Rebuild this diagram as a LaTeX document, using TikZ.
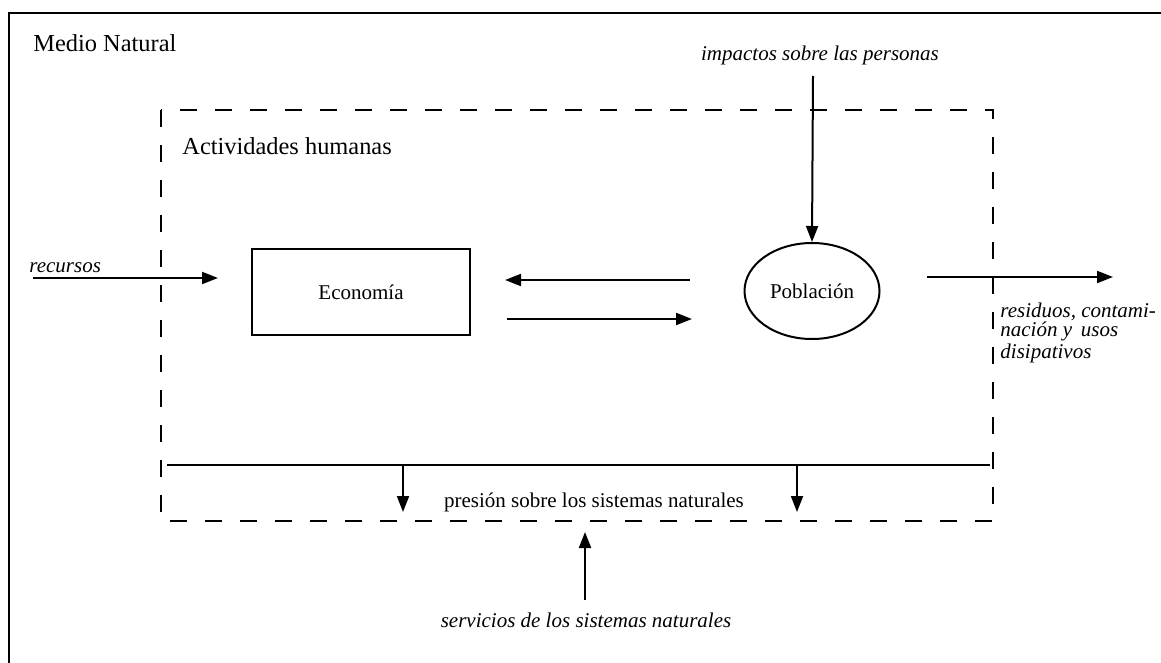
\documentclass[tikz,border=0pt]{standalone}
\usepackage{fontspec}
\setmainfont{Liberation Serif}
\usetikzlibrary{arrows.meta,shapes.geometric}

\begin{document}
\begin{tikzpicture}[x=0.5pt,y=-0.5pt,
  flecha/.style={line width=1pt,-{Triangle[length=8pt,width=6pt]}},
  etiq/.style={font=\fontsize{10.5}{12}\selectfont\itshape,inner sep=0pt},
  titulo/.style={font=\fontsize{12.2}{14}\selectfont,anchor=west,inner sep=0pt},
  interno/.style={font=\fontsize{10.5}{12}\selectfont,inner sep=0pt}]
\useasboundingbox (0,0) rectangle (1161,663);

% medio natural
\draw[line width=1pt] (1175,13) -- (9,13) -- (9,680);
\node[titulo] (medio) at (33,43) {Medio Natural};

% actividades humanas
\draw[line width=1pt,dash pattern=on 8.5pt off 9pt] (161,110) rectangle (993,521);
\node[titulo] (activ) at (182,146) {Actividades humanas};

\node[draw,line width=1pt,minimum width=109pt,minimum height=43pt,interno] (eco) at (361,292) {Econom\'ia};
\node[draw,ellipse,line width=1pt,minimum width=67.5pt,minimum height=48pt,interno] (pob) at (812,291) {Poblaci\'on};

% entradas
\node[etiq] (imp) at (820,55) {impactos sobre las personas};
\coordinate (impini) at (813,76);
\draw[flecha] (impini) -- (pob.north);

\node[etiq,anchor=base west] (rec) at (29,272) {recursos};
\coordinate (recini) at (33,278);
\coordinate (recfin) at (218,278);
\draw[flecha] (recini) -- (recfin);

% flujos economia - poblacion
\coordinate (a1) at (690,280);
\coordinate (a2) at (505,280);
\coordinate (b1) at (507,319);
\coordinate (b2) at (692,319);
\draw[flecha] (a1) -- (a2);
\draw[flecha] (b1) -- (b2);

% salidas
\coordinate (resini) at (927,277);
\coordinate (resfin) at (1113,277);
\draw[flecha] (resini) -- (resfin);
\node[etiq,anchor=north west,align=left,font=\fontsize{10.5}{9.5}\selectfont\itshape] (res) at (1000,303)
  {residuos, contami-\\naci\'on y\, usos\\disipativos};

% presion
\coordinate (linizq) at (167,465);
\coordinate (linder) at (990,465);
\draw[line width=1pt] (linizq) -- (linder);
\foreach \x in {403,797}
{
\coordinate (pa\x) at (\x,465);
\coordinate (pb\x) at (\x,512);
\draw[flecha] (pa\x) -- (pb\x);
}
\node[interno] (pres) at (594,502) {presi\'on sobre los sistemas naturales};

% servicios
\node[etiq] (serv) at (586,620) {servicios de los sistemas naturales};
\coordinate (servini) at (585,600);
\coordinate (servfin) at (585,532);
\draw[flecha] (servini) -- (servfin);
\end{tikzpicture}
\end{document}
